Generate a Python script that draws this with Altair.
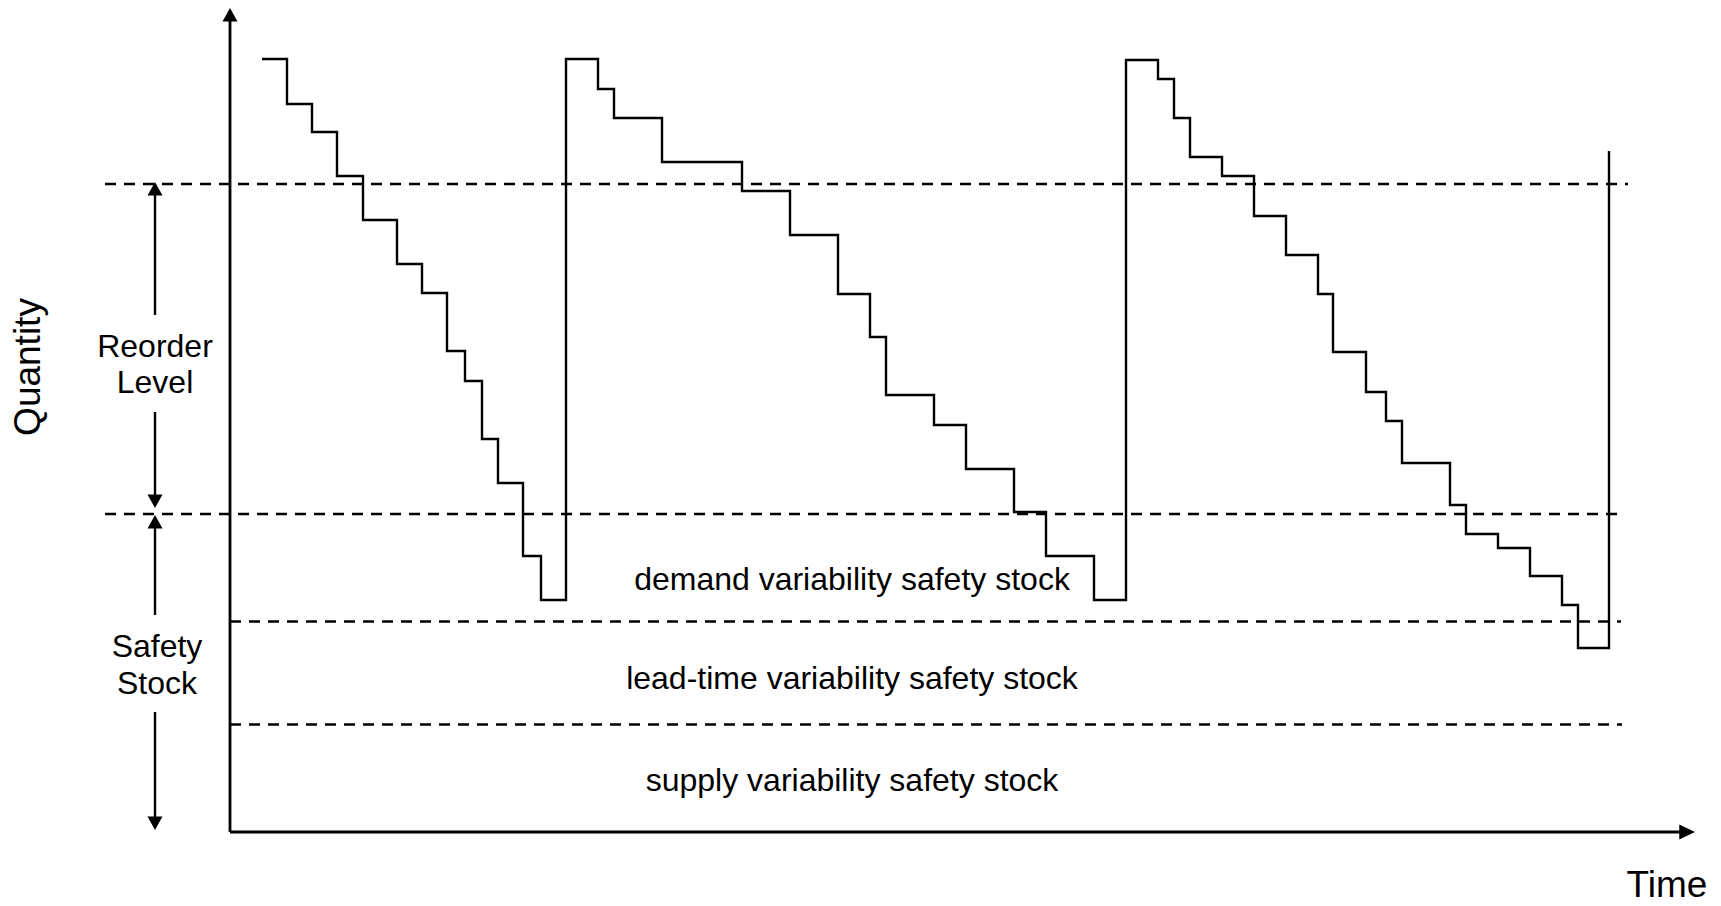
import altair as alt
import pandas as pd

# ---------------- data (time / quantity units, origin at the axes corner) ----------------
# inventory step path: value holds from each time until the next one
step_time = [32, 57, 82, 107, 133, 167, 192, 217, 235, 252, 268, 293, 311,
             336, 368, 384, 432, 512, 560, 608, 640, 656, 704, 736, 784, 816, 864,
             896, 928, 944, 960, 992, 1024, 1056, 1088, 1103, 1136, 1156, 1172, 1220,
             1236, 1268, 1300, 1332, 1348, 1379]
step_qty = [773, 728, 700, 656, 612, 568, 539, 481, 451, 393, 349, 276, 232,
            773, 743, 714, 670, 641, 597, 538, 495, 437, 407, 363, 320, 276, 232,
            772, 753, 714, 675, 656, 616, 577, 538, 480, 440, 411, 369, 327,
            298, 284, 256, 227, 184, 681]

# dashed reference levels
level_names = ["reorder level", "safety stock", "lead-time split", "supply split"]
level_qty = [648, 318, 210.5, 107.5]
level_start = [-125, -125, 0, 0]
level_end = [1398, 1395, 1391, 1392]

# axes (with arrow tips)
axis_len_time = 1465
axis_len_qty = 824

# bracket arrows on the left
bracket_time = -75
bracket_names = ["Reorder top", "Reorder bottom", "Safety top", "Safety bottom"]
bracket_from = [644, 420, 311, 120]
bracket_to = [517, 330, 217, 8]
up_tip_time = [0, -75, -75]
up_tip_qty = [824, 650, 317]
down_tip_time = [-75, -75]
down_tip_qty = [324, 2]
right_tip_time = [1465]
right_tip_qty = [0]

# labels
small_labels = ["Reorder", "Level", "Safety", "Stock",
                "demand variability safety stock",
                "lead-time variability safety stock",
                "supply variability safety stock"]
small_time = [-75, -75, -73, -73, 622, 622, 622]
small_qty = [475, 439, 175, 138, 242, 143.5, 41]

FONT = "Liberation Sans"
XDOM = [-222, 1483]
YDOM = [-74, 824]


def X(field):
    return alt.X(field, type="quantitative", scale=alt.Scale(domain=XDOM, nice=False, zero=False), axis=None)


def Y(field):
    return alt.Y(field, type="quantitative", scale=alt.Scale(domain=YDOM, nice=False, zero=False), axis=None)


step_df = pd.DataFrame({"t": step_time, "q": step_qty, "i": list(range(len(step_time)))})
level_df = pd.DataFrame({"name": level_names, "q": level_qty, "t1": level_start, "t2": level_end})
axes_df = pd.DataFrame({"t1": [0, 0], "t2": [0, axis_len_time - 10],
                        "q1": [0, 0], "q2": [axis_len_qty - 10, 0]})
bracket_df = pd.DataFrame({"name": bracket_names, "t": [bracket_time] * 4,
                           "q1": bracket_from, "q2": bracket_to})
up_df = pd.DataFrame({"t": up_tip_time, "q": up_tip_qty})
down_df = pd.DataFrame({"t": down_tip_time, "q": down_tip_qty})
right_df = pd.DataFrame({"t": right_tip_time, "q": right_tip_qty})
small_df = pd.DataFrame({"label": small_labels, "t": small_time, "q": small_qty})
time_df = pd.DataFrame({"label": ["Time"], "t": [1437], "q": [-65]})
qty_df = pd.DataFrame({"label": ["Quantity"], "t": [-190], "q": [465]})

step_line = alt.Chart(step_df).mark_line(
    interpolate="step-after", color="black", strokeWidth=2.4
).encode(x=X("t"), y=Y("q"), order=alt.Order("i:Q"))

levels = alt.Chart(level_df).mark_rule(
    color="black", strokeWidth=2.6, strokeDash=[11, 8]
).encode(x=X("t1"), x2=alt.X2("t2"), y=Y("q"))

axes = alt.Chart(axes_df).mark_rule(color="black", strokeWidth=2.8).encode(
    x=X("t1"), x2=alt.X2("t2"), y=Y("q1"), y2=alt.Y2("q2"))

brackets = alt.Chart(bracket_df).mark_rule(color="black", strokeWidth=2.4).encode(
    x=X("t"), y=Y("q1"), y2=alt.Y2("q2"))

up_tips = alt.Chart(up_df).mark_point(
    shape="M0,0L1,1.8L-1,1.8Z", filled=True, size=225, color="black", opacity=1, strokeWidth=0
).encode(x=X("t"), y=Y("q"))

down_tips = alt.Chart(down_df).mark_point(
    shape="M0,0L1,-1.8L-1,-1.8Z", filled=True, size=225, color="black", opacity=1, strokeWidth=0
).encode(x=X("t"), y=Y("q"))

right_tips = alt.Chart(right_df).mark_point(
    shape="M0,0L-2.1,-1L-2.1,1Z", filled=True, size=225, color="black", opacity=1, strokeWidth=0
).encode(x=X("t"), y=Y("q"))

small_text = alt.Chart(small_df).mark_text(
    font=FONT, fontSize=32, color="black", align="center", baseline="alphabetic"
).encode(x=X("t"), y=Y("q"), text="label:N")

time_text = alt.Chart(time_df).mark_text(
    font=FONT, fontSize=37, color="black", align="center", baseline="alphabetic"
).encode(x=X("t"), y=Y("q"), text="label:N")

qty_text = alt.Chart(qty_df).mark_text(
    font=FONT, fontSize=37, color="black", align="center", baseline="alphabetic", angle=270
).encode(x=X("t"), y=Y("q"), text="label:N")

chart = alt.layer(
    levels, axes, brackets, step_line, up_tips, down_tips, right_tips,
    small_text, time_text, qty_text
).properties(
    width=1705, height=898, padding=0, autosize=alt.AutoSizeParams(type="none"),
    background="white"
).configure_view(strokeWidth=0)

chart.save("out.html", embed_options={"renderer": "svg", "actions": False})
